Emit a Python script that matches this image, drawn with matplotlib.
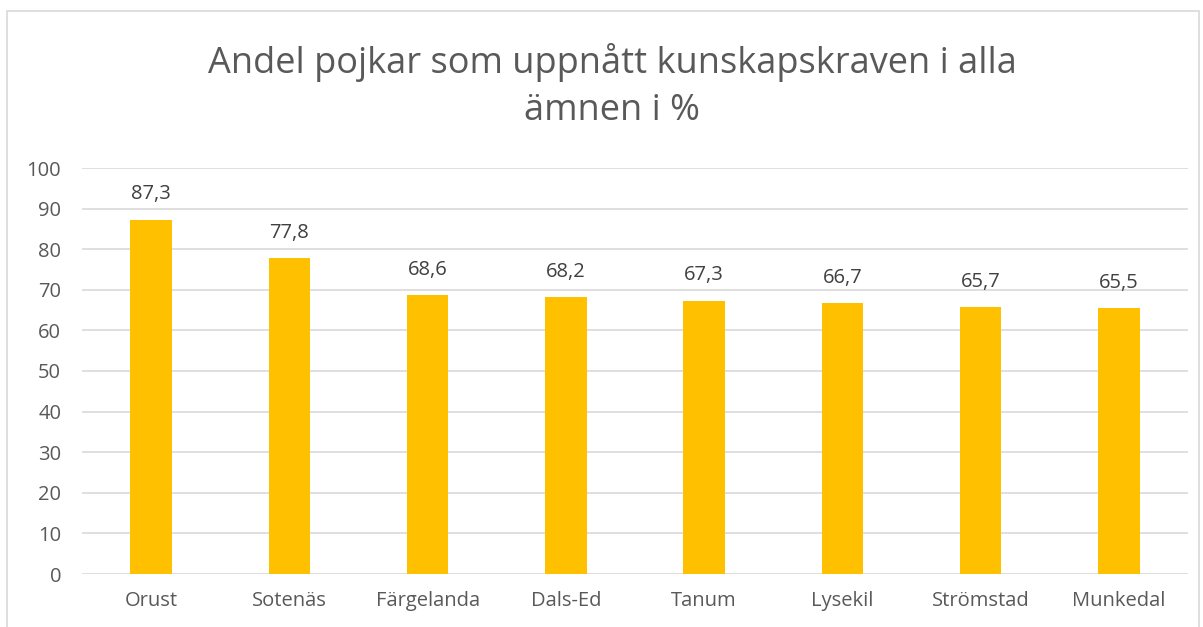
import matplotlib.pyplot as plt
from matplotlib.patches import Rectangle

kommuner = ["Orust", "Sotenäs", "Färgelanda", "Dals-Ed", "Tanum",
            "Lysekil", "Strömstad", "Munkedal"]
andel = [87.3, 77.8, 68.6, 68.2, 67.3, 66.7, 65.7, 65.5]
y_ticks = list(range(0, 101, 10))

plt.rcParams["font.family"] = ["Open Sans", "DejaVu Sans"]
text_color = "#595959"
grid_color = "#d9d9d9"

fig = plt.figure(figsize=(12.03, 6.27), dpi=100)
ax = fig.add_axes([82 / 1203, 1 - 574 / 627, 1106 / 1203, 406 / 627])

x = range(len(kommuner))
bars = ax.bar(x, andel, width=0.30, color="#FFC000", zorder=3)

for rect, v in zip(bars, andel):
    ax.annotate(f"{v:.1f}".replace(".", ","),
                (rect.get_x() + rect.get_width() / 2, v),
                xytext=(0, 11), textcoords="offset points",
                ha="center", va="bottom", fontsize=14.5, color="#404040")

ax.set_xlim(-0.5, len(kommuner) - 0.5)
ax.set_ylim(0, 100)
ax.set_yticks(y_ticks)
ax.set_xticks(list(x))
ax.set_xticklabels(kommuner)
ax.tick_params(axis="both", length=0, labelsize=14.5, labelcolor=text_color)
ax.tick_params(axis="x", pad=12)
ax.tick_params(axis="y", pad=15)
ax.grid(axis="y", color=grid_color, linewidth=1.2, zorder=0)
for s in ax.spines.values():
    s.set_visible(False)

fig.text(612 / 1203, 1 - 86 / 627,
         "Andel pojkar som uppnått kunskapskraven i alla\nämnen i %",
         ha="center", va="center", fontsize=26, color=text_color,
         linespacing=1.4)

# chart border
fig.patches.append(Rectangle((7 / 1203, -0.01), 1192 / 1203, 1 - 11 / 627 + 0.01,
                             transform=fig.transFigure, fill=False,
                             edgecolor=grid_color, linewidth=1.2))

fig.savefig("out.png", dpi=100)
